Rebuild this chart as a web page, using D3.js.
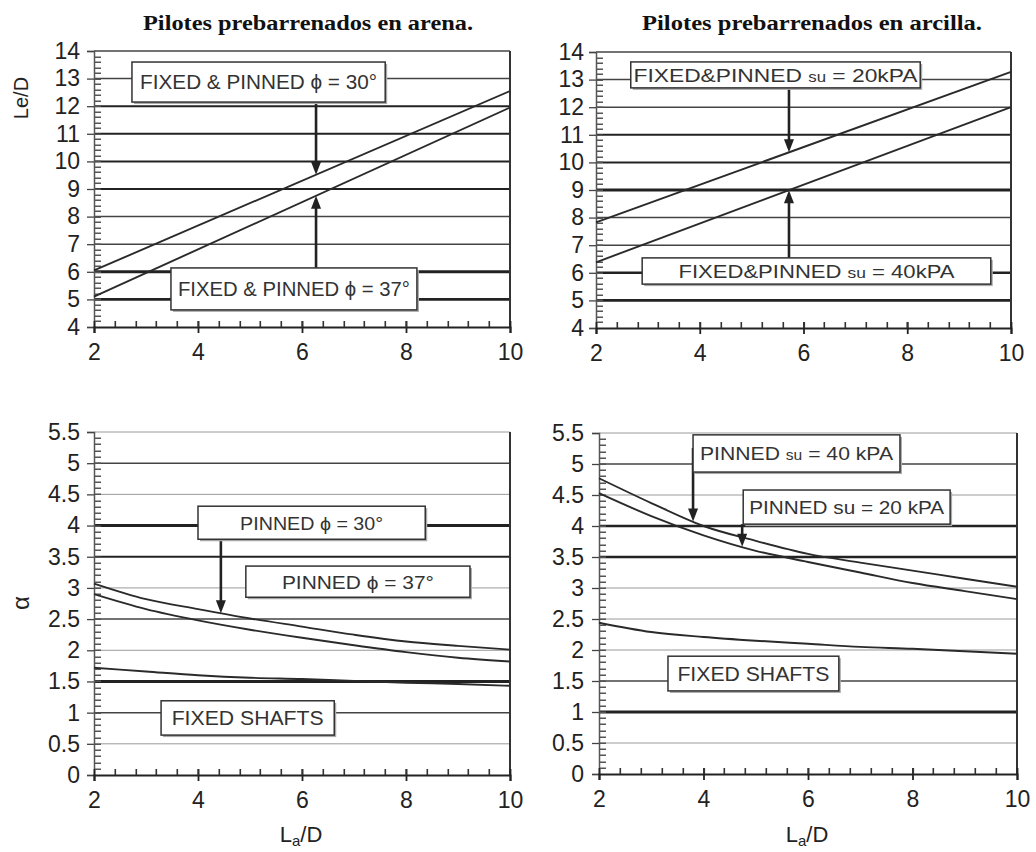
<!DOCTYPE html>
<html><head><meta charset="utf-8">
<script src="https://cdn.jsdelivr.net/npm/d3@7"></script>
<style>body{margin:0;background:#fff}svg{display:block}</style>
</head><body>
<script>
// ---------- DATA ----------
const xTicks = [2, 4, 6, 8, 10];
const leDTicks = [4, 5, 6, 7, 8, 9, 10, 11, 12, 13, 14];
const alphaTicks = [0, 0.5, 1, 1.5, 2, 2.5, 3, 3.5, 4, 4.5, 5, 5.5];
const titles = ["Pilotes prebarrenados en arena.", "Pilotes prebarrenados en arcilla."];

// Le/D lines (straight, end points)
const lineX = [2, 10];
const sandPhi30 = [6.05, 12.55];
const sandPhi37 = [5.1, 11.95];
const claySu20 = [7.83, 13.28];
const claySu40 = [6.38, 12.0];

// alpha curves
const curveX = [2, 3, 4, 5, 6, 7, 8, 9, 10];
const sandPinned30 = [3.07, 2.82, 2.66, 2.51, 2.38, 2.25, 2.14, 2.07, 2.01];
const sandPinned37 = [2.9, 2.66, 2.48, 2.33, 2.2, 2.08, 1.97, 1.88, 1.82];
const sandFixed = [1.72, 1.66, 1.6, 1.56, 1.54, 1.51, 1.48, 1.46, 1.43];
const clayPinned40 = [4.77, 4.37, 4.0, 3.76, 3.55, 3.41, 3.28, 3.15, 3.02];
const clayPinned20 = [4.53, 4.16, 3.85, 3.6, 3.42, 3.25, 3.08, 2.95, 2.82];
const clayFixed = [2.44, 2.29, 2.21, 2.15, 2.1, 2.05, 2.02, 1.98, 1.94];

// ---------- STYLE (grid line weights per tick) ----------
const gridTL = [2.2, 2.6, 3, 1.5, 1.5, 2, 2, 2, 2, 1.5, 1.5];
const gridTR = [2.2, 2.6, 2.6, 1.5, 1.5, 3, 2, 2, 1.5, 1.5, 1.5];
const gridBL = [2.2, 1, 1.5, 3, 1, 1.5, 1, 2, 3, 1, 1.5, 1];
const gridBR = [2.2, 1, 3, 1.5, 1, 1, 1, 2.5, 2.5, 1, 1.5, 1];

const W = 1036, H = 852;
const svg = d3.select("body").append("svg").attr("width", W).attr("height", H);
const FONT = "'Liberation Sans', Arial, sans-serif";

function gridColor(w){ return w >= 2 ? "#222" : (w >= 1.5 ? "#444" : "#9a9a9a"); }

function panel(cfg){
  const x = d3.scaleLinear().domain([2, 10]).range(cfg.xr);
  const y = d3.scaleLinear().domain(cfg.yd).range(cfg.yr);
  const g = svg.append("g");
  // grid
  cfg.yTicks.forEach((t, i) => {
    if (i === 0) return;
    const w = cfg.grid[i];
    g.append("line").attr("x1", x(2)).attr("x2", x(10)).attr("y1", y(t)).attr("y2", y(t))
      .attr("stroke", gridColor(w)).attr("stroke-width", w);
  });
  // right border
  g.append("line").attr("x1", x(10)).attr("x2", x(10)).attr("y1", y(cfg.yd[1])).attr("y2", y(cfg.yd[0]))
    .attr("stroke", "#333").attr("stroke-width", 2);
  // y axis
  const ya = d3.axisLeft(y).tickValues(cfg.yTicks).tickSize(7).tickPadding(cfg.yPad).tickFormat(d3.format("~g"));
  const yg = g.append("g").attr("transform", `translate(${x(2)},0)`).call(ya);
  yg.select(".domain").attr("stroke", "#555").attr("stroke-width", 1.5);
  yg.selectAll(".tick line").attr("stroke", "#444").attr("stroke-width", 1.3);
  yg.selectAll("text").attr("font-family", FONT).attr("font-size", 23).attr("fill", "#222");
  // x axis
  const xa = d3.axisBottom(x).tickValues(xTicks).tickSize(6).tickPadding(11).tickFormat(d3.format("d"));
  const xg = g.append("g").attr("transform", `translate(0,${y(cfg.yd[0])})`).call(xa);
  xg.select(".domain").attr("stroke", "#222").attr("stroke-width", 2);
  xg.selectAll(".tick line").attr("y1", -6).attr("stroke", "#222").attr("stroke-width", 1.8);
  xg.selectAll("text").attr("font-family", FONT).attr("font-size", 23).attr("fill", "#222");
  // y minor ticks
  const nY = Math.round((cfg.yd[1] - cfg.yd[0]) / cfg.minorY);
  const yMin = d3.range(1, nY).map(i => cfg.yd[0] + i * cfg.minorY);
  const xa0 = x(2);
  g.selectAll("rect.ymin").data(yMin).join("rect").attr("class", "ymin")
    .attr("x", xa0 + 1).attr("y", d => Math.round(y(d)) - 0.5).attr("width", 6).attr("height", 1.5)
    .attr("fill", "#555");
  // x minor ticks
  const xMin = d3.range(1, 20).map(i => 2 + i * 0.4);
  const yb = y(cfg.yd[0]);
  g.selectAll("rect.xmin").data(xMin).join("rect").attr("class", "xmin")
    .attr("x", d => Math.round(x(d)) - 0.5).attr("y", yb - 6).attr("width", 1.6).attr("height", 6)
    .attr("fill", "#333");
  // series
  const line = d3.line().x(d => x(d[0])).y(d => y(d[1])).curve(d3.curveMonotoneX);
  cfg.series.forEach(s => {
    g.append("path").datum(s.xs.map((v, i) => [v, s.ys[i]])).attr("d", line)
      .attr("fill", "none").attr("stroke", "#2a2a2a").attr("stroke-width", 1.9);
  });
  // annotations
  const interp = (s, xv) => {
    for (let i = 0; i < s.xs.length - 1; i++) {
      if (xv >= s.xs[i] && xv <= s.xs[i + 1]) {
        const t = (xv - s.xs[i]) / (s.xs[i + 1] - s.xs[i]);
        return s.ys[i] + t * (s.ys[i + 1] - s.ys[i]);
      }
    }
    return s.ys[s.ys.length - 1];
  };
  cfg.arrows.forEach(a => {
    const s = cfg.series[a.series];
    const xp = x(a.x), y0 = y(a.from), y1 = y(interp(s, a.x));
    const dir = y1 > y0 ? 1 : -1;
    g.append("line").attr("x1", xp).attr("x2", xp).attr("y1", y0).attr("y2", y1 - dir * 10)
      .attr("stroke", "#222").attr("stroke-width", 2.6);
    g.append("path").attr("d", `M${xp - 5},${y1 - dir * 13}L${xp + 5},${y1 - dir * 13}L${xp},${y1}Z`)
      .attr("fill", "#222");
  });
  cfg.boxes.forEach(b => {
    const x0 = x(b.x0), x1 = x(b.x1), y0 = y(b.y0), y1 = y(b.y1);
    g.append("rect").attr("x", x0 + 2).attr("y", y0 + 2).attr("width", x1 - x0).attr("height", y1 - y0)
      .attr("fill", "#aaa");
    g.append("rect").attr("x", x0).attr("y", y0).attr("width", x1 - x0).attr("height", y1 - y0)
      .attr("fill", "#fff").attr("stroke", "#333").attr("stroke-width", 1.5);
    const t = g.append("text").attr("x", (x0 + x1) / 2).attr("y", (y0 + y1) / 2 + b.fs * 0.36)
      .attr("text-anchor", "middle").attr("font-family", FONT).attr("font-size", b.fs).attr("fill", "#333")
      .attr("textLength", b.tw).attr("lengthAdjust", "spacingAndGlyphs");
    b.parts.forEach(p => t.append("tspan").attr("font-size", p[1] || b.fs).text(p[0]));
  });
  return {x, y};
}

// Top-left
panel({xr: [94, 510], yr: [327, 51], yd: [4, 14], yTicks: leDTicks, grid: gridTL, minorY: 0.2, yPad: 7,
  series: [{xs: lineX, ys: sandPhi30}, {xs: lineX, ys: sandPhi37}],
  arrows: [{series: 0, x: 6.27, from: 12.15}, {series: 1, x: 6.27, from: 6.14}],
  boxes: [
    {x0: 2.73, x1: 7.6, y0: 13.6, y1: 12.15, fs: 20, tw: 237, parts: [["FIXED & PINNED ϕ = 30°"]]},
    {x0: 3.48, x1: 8.21, y0: 6.14, y1: 4.62, fs: 20, tw: 232, parts: [["FIXED & PINNED ϕ = 37°"]]}
  ]});
// Top-right
panel({xr: [596, 1011], yr: [328, 52], yd: [4, 14], yTicks: leDTicks, grid: gridTR, minorY: 0.2, yPad: 5,
  series: [{xs: lineX, ys: claySu20}, {xs: lineX, ys: claySu40}],
  arrows: [{series: 0, x: 5.72, from: 12.7}, {series: 1, x: 5.72, from: 6.54}],
  boxes: [
    {x0: 2.67, x1: 8.25, y0: 13.64, y1: 12.7, fs: 19, tw: 284, parts: [["FIXED&PINNED  "], ["su", 14], [" = 20kPA"]]},
    {x0: 2.89, x1: 9.61, y0: 6.54, y1: 5.59, fs: 19, tw: 276, parts: [["FIXED&PINNED "], ["su", 15], [" = 40kPA"]]}
  ]});
// Bottom-left
panel({xr: [94, 510], yr: [775, 432], yd: [0, 5.5], yTicks: alphaTicks, grid: gridBL, minorY: 0.1, yPad: 7,
  series: [{xs: curveX, ys: sandPinned30}, {xs: curveX, ys: sandPinned37}, {xs: curveX, ys: sandFixed}],
  arrows: [{series: 0, x: 4.44, from: 3.78}],
  boxes: [
    {x0: 4.0, x1: 8.37, y0: 4.31, y1: 3.78, fs: 19, tw: 143, parts: [["PINNED ϕ = 30°"]]},
    {x0: 4.92, x1: 9.23, y0: 3.35, y1: 2.85, fs: 19, tw: 152, parts: [["PINNED ϕ = 37°"]]},
    {x0: 3.29, x1: 6.62, y0: 1.19, y1: 0.64, fs: 20, tw: 152, parts: [["FIXED SHAFTS"]]}
  ]});
// Bottom-right
panel({xr: [599, 1017], yr: [774, 433], yd: [0, 5.5], yTicks: alphaTicks, grid: gridBR, minorY: 0.1, yPad: 8,
  series: [{xs: curveX, ys: clayPinned40}, {xs: curveX, ys: clayPinned20}, {xs: curveX, ys: clayFixed}],
  arrows: [{series: 0, x: 3.8, from: 5.26}, {series: 1, x: 4.74, from: 4.03}],
  boxes: [
    {x0: 3.8, x1: 7.76, y0: 5.47, y1: 4.87, fs: 19, tw: 193, parts: [["PINNED "], ["su", 14], [" = 40 kPA"]]},
    {x0: 4.76, x1: 8.72, y0: 4.58, y1: 4.03, fs: 19, tw: 195, parts: [["PINNED su = 20 kPA"]]},
    {x0: 3.32, x1: 6.59, y0: 1.9, y1: 1.34, fs: 20, tw: 152, parts: [["FIXED SHAFTS"]]}
  ]});

// Titles
[[308, 330], [812, 340]].forEach((p, i) => {
  svg.append("text").attr("x", p[0]).attr("y", 30).attr("text-anchor", "middle")
    .attr("font-family", "'Liberation Serif', 'Times New Roman', serif").attr("font-weight", "bold")
    .attr("font-size", 20).attr("textLength", p[1]).attr("lengthAdjust", "spacingAndGlyphs")
    .attr("fill", "#111").text(titles[i]);
});
// Y labels
svg.append("text").attr("transform", "translate(28,98) rotate(-90)").attr("text-anchor", "middle")
  .attr("font-family", FONT).attr("font-size", 20).attr("fill", "#222").text("Le/D");
svg.append("text").attr("transform", "translate(29,603) rotate(-90)").attr("text-anchor", "middle")
  .attr("font-family", FONT).attr("font-size", 24).attr("fill", "#222").text("α");
// X labels
[301, 807].forEach(cx => {
  const t = svg.append("text").attr("x", cx).attr("y", 842).attr("text-anchor", "middle")
    .attr("font-family", FONT).attr("font-size", 22).attr("fill", "#222");
  t.append("tspan").text("L");
  t.append("tspan").attr("font-size", 15).attr("dy", 4).text("a");
  t.append("tspan").attr("dy", -4).text("/D");
});
</script>
</body></html>
